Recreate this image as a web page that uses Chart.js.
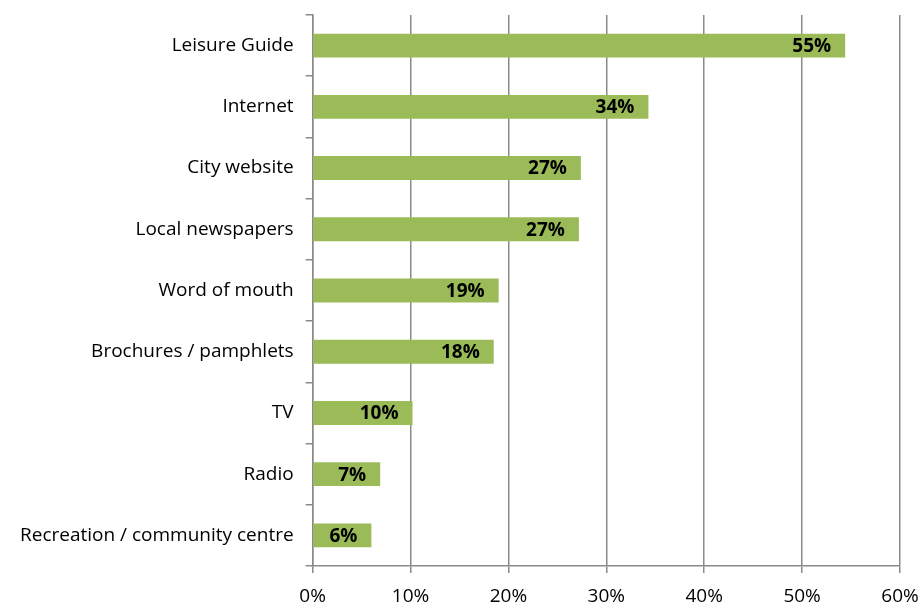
<!DOCTYPE html>
<html>
<head>
<meta charset="utf-8">
<script src="https://cdn.jsdelivr.net/npm/chart.js@4.4.1/dist/chart.umd.min.js"></script>
<style>
    html, body { margin: 0; padding: 0; background: #fff; }
    #wrap { width: 923px; height: 604px; }
</style>
</head>
<body>
<div id="wrap"><canvas id="grafico"></canvas></div>
<script>
// dados
const categorias = ['Leisure Guide', 'Internet', 'City website', 'Local newspapers', 'Word of mouth',
    'Brochures / pamphlets', 'TV', 'Radio', 'Recreation / community centre'];
const valores = [54.4, 34.3, 27.4, 27.2, 19.0, 18.5, 10.2, 6.9, 6.0]; // % respondentes
const rotulos = ['55%', '34%', '27%', '27%', '19%', '18%', '10%', '7%', '6%'];
const ticksX = [0, 10, 20, 30, 40, 50, 60];

const fonte = "'Open Sans', 'Noto Sans', sans-serif";
const cinza = '#8a8a8a';

// escreve o rótulo dentro da ponta da barra
const rotulosBarra = {
    id: 'rotulosBarra',
    afterDatasetsDraw(chart) {
        const ctx = chart.ctx;
        const meta = chart.getDatasetMeta(0);
        ctx.save();
        ctx.font = 'bold 19px ' + fonte;
        ctx.fillStyle = '#000';
        ctx.textAlign = 'right';
        ctx.textBaseline = 'middle';
        meta.data.forEach((bar, i) => {
            ctx.fillText(rotulos[i], bar.x - 14, bar.y + 1);
        });
        ctx.restore();
    }
};

const ctx1 = document.getElementById('grafico');

new Chart(ctx1, {
    type: 'bar',
    data: {
        labels: categorias,
        datasets: [{
            data: valores,
            backgroundColor: '#9BBB59',
            borderWidth: 0,
            categoryPercentage: 1,
            barPercentage: 0.39
        }]
    },
    options: {
        indexAxis: 'y',
        responsive: true,
        maintainAspectRatio: false,
        animation: false,
        layout: { padding: { top: 15, right: 23, left: 8, bottom: 0 } },
        plugins: {
            legend: { display: false },
            tooltip: { enabled: false }
        },
        scales: {
            x: {
                min: 0,
                max: 60,
                afterBuildTicks: axis => { axis.ticks = ticksX.map(v => ({ value: v })); },
                afterFit: s => { s.paddingRight = 0; s.paddingLeft = 0; s.height = 38; },
                grid: { color: cinza, lineWidth: 1.5, tickLength: 7 },
                border: { color: cinza, width: 1.5 },
                ticks: {
                    color: '#000',
                    font: { family: fonte, size: 19, lineHeight: 1 },
                    padding: 14,
                    callback: v => v + '%'
                }
            },
            y: {
                afterFit: s => { s.paddingTop = 0; s.paddingBottom = 0; },
                grid: { drawOnChartArea: false, color: cinza, lineWidth: 1.5, tickLength: 7 },
                border: { color: cinza, width: 1.5 },
                ticks: {
                    color: '#000',
                    font: { family: fonte, size: 19 },
                    padding: 12
                }
            }
        }
    },
    plugins: [rotulosBarra]
});
</script>
</body>
</html>
